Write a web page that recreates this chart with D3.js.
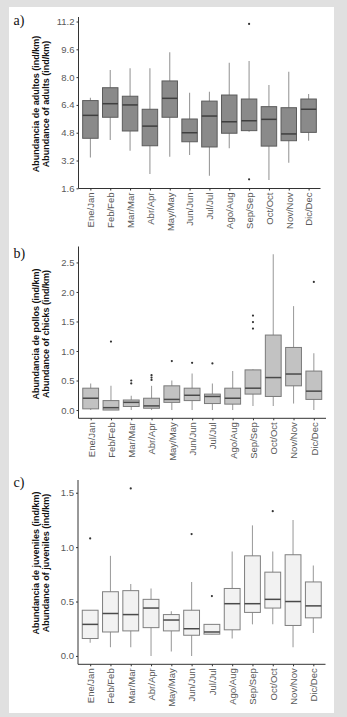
<!DOCTYPE html>
<html>
<head>
<meta charset="utf-8">
<script src="https://cdn.jsdelivr.net/npm/d3@7"></script>
<style>
  html, body { margin: 0; padding: 0; background: #e0e0e0; }
  svg { display: block; }
</style>
</head>
<body>
<div id="chart"></div>
<script>
const months = ["Ene/Jan", "Feb/Feb", "Mar/Mar", "Abr/Apr", "May/May", "Jun/Jun",
    "Jul/Jul", "Ago/Aug", "Sep/Sep", "Oct/Oct", "Nov/Nov", "Dic/Dec"];

// a) adults
const adultsLow  = [3.38, 4.38, 3.76, 2.42, 3.42, 3.52, 2.33, 3.90, 4.86, 2.08, 3.07, 4.34];
const adultsQ1   = [4.48, 5.69, 4.90, 4.05, 5.69, 4.28, 3.98, 4.77, 4.92, 4.03, 4.34, 4.82];
const adultsMed  = [5.80, 6.47, 6.40, 5.18, 6.78, 4.80, 5.76, 5.43, 5.49, 5.57, 4.73, 6.15];
const adultsQ3   = [6.65, 7.39, 6.90, 6.15, 7.78, 5.59, 6.62, 6.97, 6.74, 6.30, 6.24, 6.74];
const adultsHigh = [6.81, 8.41, 8.51, 8.51, 9.43, 7.10, 7.16, 8.83, 8.93, 7.55, 8.31, 7.03];
const adultsOut  = [["Sep/Sep", 11.06], ["Sep/Sep", 2.12]];
const adultsTicks = [1.6, 3.2, 4.8, 6.4, 8.0, 9.6, 11.2];

// b) chicks
const chicksLow  = [0.00, 0.00, 0.00, 0.00, 0.00, 0.00, 0.00, 0.00, 0.07, 0.07, 0.11, 0.00];
const chicksQ1   = [0.02, 0.00, 0.06, 0.03, 0.13, 0.16, 0.11, 0.10, 0.27, 0.23, 0.41, 0.18];
const chicksMed  = [0.20, 0.04, 0.13, 0.07, 0.18, 0.25, 0.23, 0.20, 0.37, 0.55, 0.61, 0.32];
const chicksQ3   = [0.37, 0.16, 0.17, 0.20, 0.41, 0.37, 0.27, 0.37, 0.68, 1.27, 1.06, 0.66];
const chicksHigh = [0.45, 0.41, 0.24, 0.41, 0.50, 0.62, 0.45, 0.66, 0.69, 2.64, 1.76, 0.96];
const chicksOut  = [["Feb/Feb", 1.16], ["Mar/Mar", 0.50], ["Mar/Mar", 0.45],
    ["Abr/Apr", 0.59], ["Abr/Apr", 0.55], ["Abr/Apr", 0.51], ["May/May", 0.83],
    ["Jun/Jun", 0.80], ["Jul/Jul", 0.79], ["Sep/Sep", 1.60], ["Sep/Sep", 1.49],
    ["Sep/Sep", 1.38], ["Dic/Dec", 2.17]];
const chicksTicks = [0, 0.5, 1.0, 1.5, 2.0, 2.5];

// c) juveniles
const juvLow  = [0.12, 0.08, 0.08, 0.00, 0.04, 0.00, 0.20, 0.16, 0.29, 0.29, 0.08, 0.21];
const juvQ1   = [0.16, 0.22, 0.23, 0.26, 0.23, 0.19, 0.20, 0.24, 0.40, 0.44, 0.28, 0.35];
const juvMed  = [0.29, 0.39, 0.38, 0.44, 0.33, 0.25, 0.22, 0.48, 0.48, 0.52, 0.50, 0.46];
const juvQ3   = [0.42, 0.59, 0.60, 0.52, 0.38, 0.42, 0.29, 0.62, 0.92, 0.77, 0.93, 0.68];
const juvHigh = [0.42, 0.92, 0.66, 0.62, 0.41, 0.68, 0.29, 0.96, 1.20, 0.96, 1.25, 0.83];
const juvOut  = [["Ene/Jan", 1.08], ["Mar/Mar", 1.54], ["Jun/Jun", 1.12],
    ["Jul/Jul", 0.55], ["Oct/Oct", 1.33]];
const juvTicks = [0, 0.5, 1.0, 1.5];

const width = 347, height = 717;

const svg = d3.select("#chart").append("svg")
    .attr("width", width)
    .attr("height", height);

svg.append("rect")
    .attr("x", 9).attr("y", 7)
    .attr("width", 325).attr("height", 706)
    .attr("fill", "#ffffff");

function toRows(low, q1, med, q3, high) {
    return months.map((m, i) => ({ month: m, low: low[i], q1: q1[i], med: med[i], q3: q3[i], high: high[i] }));
}

function drawPanel(p) {
    const x = d3.scalePoint().domain(months).range(p.xRange).padding(0.6);
    const y = d3.scaleLinear().domain(p.yDomain).range(p.yRange);
    const boxW = x.step() * 0.78;
    const g = svg.append("g");

    // whiskers
    g.selectAll(".whisker").data(p.rows).enter().append("line")
        .attr("x1", d => x(d.month)).attr("x2", d => x(d.month))
        .attr("y1", d => y(d.low)).attr("y2", d => y(d.high))
        .attr("stroke", p.whisker).attr("stroke-width", 1.1);

    // boxes
    g.selectAll(".box").data(p.rows).enter().append("rect")
        .attr("x", d => x(d.month) - boxW / 2)
        .attr("y", d => y(d.q3))
        .attr("width", boxW)
        .attr("height", d => y(d.q1) - y(d.q3))
        .attr("fill", p.fill)
        .attr("stroke", p.stroke)
        .attr("stroke-width", 1);

    // medians
    g.selectAll(".median").data(p.rows).enter().append("line")
        .attr("x1", d => x(d.month) - boxW / 2).attr("x2", d => x(d.month) + boxW / 2)
        .attr("y1", d => y(d.med)).attr("y2", d => y(d.med))
        .attr("stroke", p.median).attr("stroke-width", 1.5);

    // outliers
    g.selectAll(".outlier").data(p.outliers).enter().append("circle")
        .attr("cx", d => x(d[0])).attr("cy", d => y(d[1]))
        .attr("r", 1.1).attr("fill", "#333");

    // axes
    const yAxis = g.append("g")
        .attr("transform", `translate(${p.xRange[0]},0)`)
        .call(d3.axisLeft(y).tickValues(p.ticks).tickFormat(d3.format(".1f")).tickSize(2).tickPadding(2));
    yAxis.select(".domain").attr("stroke", "#333").attr("d", `M0,${p.yRange[1]}V${p.yRange[0]}`);
    yAxis.selectAll(".tick line").attr("stroke", "#333");
    yAxis.selectAll(".tick text")
        .attr("fill", "#595959")
        .style("font-family", "Liberation Sans, Arial, sans-serif")
        .style("font-size", "9.5px");

    const xAxis = g.append("g")
        .attr("transform", `translate(0,${p.yRange[0]})`)
        .call(d3.axisBottom(x).tickSize(2).tickPadding(2));
    xAxis.select(".domain").attr("stroke", "#333").attr("d", `M${p.xRange[0]},0H${p.xRange[1]}`);
    xAxis.selectAll(".tick line").attr("stroke", "#333");
    xAxis.selectAll(".tick text")
        .attr("fill", "#595959")
        .attr("transform", "rotate(-90)")
        .attr("text-anchor", "end")
        .attr("x", -4).attr("y", 0).attr("dy", "0.35em")
        .style("font-family", "Liberation Sans, Arial, sans-serif")
        .style("font-size", "9.5px");

    // y title, two lines
    p.title.forEach((t, i) => {
        g.append("text")
            .attr("transform", `translate(${38.5 + i * 10},${p.titleY}) rotate(-90)`)
            .attr("text-anchor", "middle")
            .style("font-family", "Liberation Sans, Arial, sans-serif")
            .style("font-size", "9px")
            .style("font-weight", "bold")
            .attr("fill", "#111")
            .text(t);
    });

    // panel label
    g.append("text")
        .attr("x", 13.5).attr("y", p.labelY)
        .style("font-family", "Liberation Serif, Times New Roman, serif")
        .style("font-size", "14px")
        .attr("fill", "#111")
        .text(p.label);
}

drawPanel({
    rows: toRows(adultsLow, adultsQ1, adultsMed, adultsQ3, adultsHigh),
    outliers: adultsOut,
    ticks: adultsTicks,
    xRange: [78.5, 320.5],
    yDomain: [1.59, 11.46],
    yRange: [188.5, 17],
    fill: "#8a8a8a", stroke: "#5c5c5c", whisker: "#9a9a9a", median: "#3f3f3f",
    title: ["Abundancia de adultos (ind/km)", "Abundance of adults (ind/km)"],
    titleY: 104,
    label: "a)", labelY: 24.5
});

drawPanel({
    rows: toRows(chicksLow, chicksQ1, chicksMed, chicksQ3, chicksHigh),
    outliers: chicksOut,
    ticks: chicksTicks,
    xRange: [78.5, 326],
    yDomain: [-0.14, 2.77],
    yRange: [418.3, 246.5],
    fill: "#c2c2c2", stroke: "#7a7a7a", whisker: "#a0a0a0", median: "#4a4a4a",
    title: ["Abundancia de pollos (ind/km)", "Abundance of chicks (ind/km)"],
    titleY: 334,
    label: "b)", labelY: 257.5
});

drawPanel({
    rows: toRows(juvLow, juvQ1, juvMed, juvQ3, juvHigh),
    outliers: juvOut,
    ticks: juvTicks,
    xRange: [78, 325.5],
    yDomain: [-0.077, 1.617],
    yRange: [664.3, 480],
    fill: "#f2f2f2", stroke: "#7f7f7f", whisker: "#a0a0a0", median: "#4a4a4a",
    title: ["Abundancia de juveniles (ind/km)", "Abundance of juveniles (ind/km)"],
    titleY: 563,
    label: "c)", labelY: 487
});
</script>
</body>
</html>
